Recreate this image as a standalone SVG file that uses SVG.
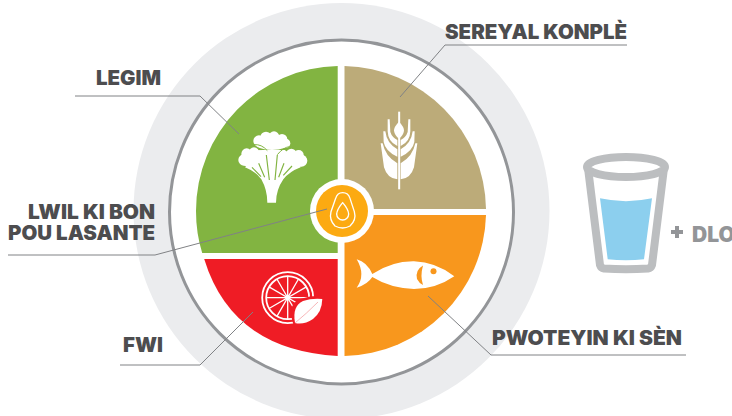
<svg xmlns="http://www.w3.org/2000/svg" width="732" height="416" viewBox="0 0 732 416">
<style>
.lbl{font-family:"Inter","Liberation Sans",sans-serif;font-weight:900;font-size:20px;fill:#4d4d4f}
.lead{fill:none;stroke:#808285;stroke-width:1}
.ic{fill:#fff}
</style>
<rect width="732" height="416" fill="#fff"/>
<g id="plate">
<circle cx="341.500" cy="211" r="208" fill="#ebecee"/>
<circle cx="341.500" cy="212" r="172" fill="#fff" stroke="#939598" stroke-width="3"/>
</g>
<g id="legim">
<path d="M337.700 66A145 145 0 0 0 196 211Q196 233 202.200 253H337.700Z" fill="#82b441"/>
<g transform="translate(190 60) scale(.33333)">
<g class="ic">
<circle cx="207" cy="243" r="17"/><circle cx="228" cy="232" r="17"/><circle cx="252" cy="230" r="16"/><circle cx="276" cy="238" r="16"/><circle cx="287" cy="250" r="14"/>
<ellipse cx="246" cy="250" rx="52" ry="20"/>
<circle cx="162" cy="300" r="17"/><circle cx="170" cy="281" r="16"/><circle cx="192" cy="278" r="16"/><circle cx="210" cy="284" r="14"/>
<ellipse cx="186" cy="298" rx="38" ry="24"/>
<circle cx="334" cy="302" r="18"/><circle cx="326" cy="285" r="15"/><circle cx="304" cy="282" r="16"/><circle cx="284" cy="286" r="13"/>
<ellipse cx="310" cy="300" rx="38" ry="24"/>
<path d="M232 428H258Q258 390 280 358Q298 335 332 322L285 270H215L165 322Q198 335 214 358Q232 390 232 428Z"/>
</g>
<path d="M192 254Q215 252 232 272M298 260Q280 262 262 284" fill="none" stroke="#82b441" stroke-width="3"/>
<path d="M186 322L213 350M206 310L224 352M229 285L238 360M262 285L255 360M282 310L266 352M306 318L280 346" fill="none" stroke="#82b441" stroke-width="3.500"/>
</g>
</g>
<g id="sereyal">
<path d="M344.500 66A145 145 0 0 1 486 209H344.500Z" fill="#bcab79"/>
<g transform="translate(340 60) scale(.33333)" class="ic">
<rect x="174.500" y="155" width="6" height="233"/>
<path d="M177 185Q192 200 192 212Q190 226 177 236Q164 226 162 212Q162 200 177 185Z"/>
<path d="M143 178H149L151 216Q156 232 172 240V258Q144 246 143 214Z"/>
<path d="M211 178H205L203 216Q198 232 182 240V258Q210 246 211 214Z"/>
<path d="M130 214H136Q140 250 172 268V290Q136 274 131 246Z"/>
<path d="M224 214H218Q214 250 182 268V290Q218 274 223 246Z"/>
<path d="M122 250H128Q136 290 172 310V358Q142 356 132 322Z"/>
<path d="M232 250H226Q218 290 182 310V358Q212 356 222 322Z"/>
</g>
</g>
<g id="pwoteyin">
<path d="M344.500 215H486A145 145 0 0 1 344.500 356Z" fill="#f8971d"/>
<path class="ic" d="M356.700 259.300Q367 262 372.300 274Q392 261 414 261.300Q436 262 454.300 276.300Q436 289 414 289Q390 288 372.300 277Q368 284 356.700 287.700Q366 275 356.700 259.300Z"/>
<path d="M423 265.500Q415 270 417 279Q419 283 423 285Q420 276 423 265.500Z" fill="#f8971d"/>
<circle cx="433.500" cy="271.300" r="3" fill="#f8971d"/>
</g>
<g id="fwi">
<path d="M204.200 259H337.700V356Q232 350 204.200 259Z" fill="#ef1c25"/>
<g fill="none" stroke="#fff">
<circle cx="287.700" cy="297.700" r="25.500" stroke-width="1.800"/>
<circle cx="287.700" cy="297.700" r="21.500" stroke-width="1.800"/>
<path stroke-width="1.300" d="M287.700 276.200V319.200M266.200 297.700H309.200M276.900 279L298.500 316.400M298.500 279L276.900 316.400M269 286.900L306.400 308.500M269 308.500L306.400 286.900"/>
</g>
<path d="M294 326Q286 305 300 299Q312 295 325 296Q325 312 316 320Q306 328 294 326Z" fill="#ef1c25"/>
<path class="ic" d="M295 323Q292 306 303 301Q312 298 322.300 299Q322 312 313 319Q304 325 295 323Z"/>
<path d="M295 323Q306 314 318 302" fill="none" stroke="#f4a3a6" stroke-width="0.800"/>
</g>
<g id="lwil">
<circle cx="342" cy="211" r="32" fill="#fff"/>
<circle cx="342" cy="211" r="26" fill="#fcaa12"/>
<g transform="translate(200 170) scale(.33333)" fill="none" stroke="#fff" stroke-width="4">
<path d="M428 68Q445 68 450 85L463 125Q470 150 450 168Q428 180 405 168Q387 150 393 125L407 85Q412 68 428 68Z"/>
<path d="M428 98Q445 118 446 132A18 18 0 0 1 410 132Q411 118 428 98Z"/>
</g>
</g>
<g id="connectors">
<path class="lead" d="M75 96H200L239 134"/>
<path class="lead" d="M627 45H445L400 97"/>
<path class="lead" d="M8 255H155L327 209"/>
<path class="lead" d="M120 365H200L253 312"/>
<path class="lead" d="M686 355H491L428 296"/>
</g>
<g id="labels">
<text class="lbl" x="96" y="85" textLength="65" lengthAdjust="spacingAndGlyphs">LEGIM</text>
<text class="lbl" x="445" y="39" textLength="182" lengthAdjust="spacingAndGlyphs">SEREYAL KONPLÈ</text>
<text class="lbl" x="28" y="219" textLength="127" lengthAdjust="spacingAndGlyphs">LWIL KI BON</text>
<text class="lbl" x="8" y="240" textLength="147" lengthAdjust="spacingAndGlyphs">POU LASANTE</text>
<text class="lbl" x="123" y="352" textLength="40" lengthAdjust="spacingAndGlyphs">FWI</text>
<text class="lbl" x="492" y="345" textLength="190" lengthAdjust="spacingAndGlyphs">PWOTEYIN KI SÈN</text>
</g>
<g id="dlo">
<path d="M600 198.300Q626 204 652 198.300L644 259.300Q626 261 607.700 259.300Z" fill="#8ccfee"/>
<path d="M588 168L600 265Q601 268 604 268.500Q626 270 648 268.500Q651 268 652 265L664 168" fill="none" stroke="#bcbec0" stroke-width="8" stroke-linejoin="round"/>
<ellipse cx="626" cy="167" rx="39" ry="10" fill="#fff" stroke="#bcbec0" stroke-width="8"/>
<path d="M671 232H683M677 226V238" fill="none" stroke="#939598" stroke-width="4"/>
<text x="692" y="242" style="font-family:Inter,'Liberation Sans',sans-serif;font-weight:900;font-size:21px;fill:#939598">DLO</text>
</g>
</svg>
